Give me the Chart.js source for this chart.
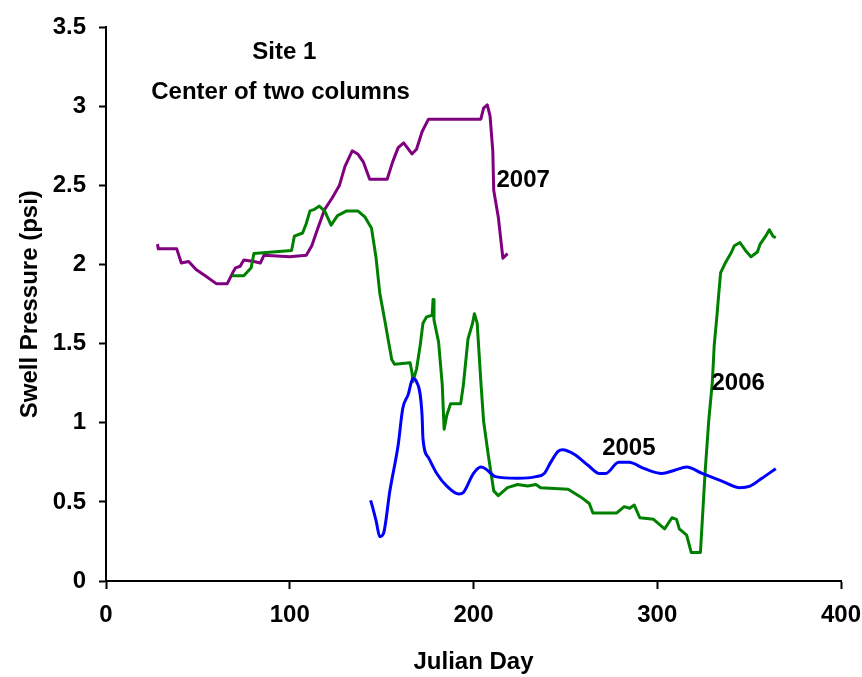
<!DOCTYPE html>
<html>
<head>
<meta charset="utf-8">
<script src="https://cdn.jsdelivr.net/npm/chart.js@4.4.1/dist/chart.umd.min.js"></script>
<style>
  html, body { margin: 0; padding: 0; background: #fff; }
  #wrap { width: 862px; height: 677px; position: relative; }
</style>
</head>
<body>
<div id="wrap"><canvas id="swellChart"></canvas></div>
<script>
// julian day / swell pressure (psi)
const days2007 = [28, 28.5, 38.5, 41, 45, 49, 54, 60, 66, 69, 70.5, 73, 75, 80.5, 84, 86, 100, 109, 112, 115, 119, 123, 127, 130, 134, 137, 140, 143.5, 153, 156, 159, 162, 166.5, 169, 172, 175.5, 204, 205.5, 207.5, 209, 210.5, 211, 213.5, 216, 218.5];
const psi2007 = [2.13, 2.10, 2.10, 2.01, 2.02, 1.97, 1.93, 1.88, 1.88, 1.95, 1.98, 1.99, 2.03, 2.02, 2.01, 2.06, 2.05, 2.06, 2.12, 2.22, 2.35, 2.42, 2.50, 2.62, 2.72, 2.70, 2.65, 2.54, 2.54, 2.65, 2.74, 2.77, 2.70, 2.73, 2.84, 2.92, 2.92, 2.99, 3.01, 2.94, 2.72, 2.47, 2.30, 2.04, 2.07];

const days2006 = [68.6, 75, 79, 80.5, 101, 102.5, 107, 109, 111, 113.5, 116, 119, 122.5, 126, 131, 137, 141, 144.5, 147, 149, 152, 153.5, 155.5, 157, 165.5, 166.5, 167, 169, 171, 172.5, 174.5, 177.5, 178, 178.5, 181, 183, 184, 185.5, 187.5, 193, 194.5, 197, 199.5, 200.5, 202, 204, 205.5, 208, 211, 213.5, 218.5, 224, 229.5, 234, 236.5, 251.5, 258.5, 263, 265, 278, 282, 285, 287.5, 290.5, 298, 304, 308, 310.5, 312, 316, 318.5, 323.5, 324.5, 326, 328, 330, 331, 332.5, 333.5, 334.5, 337, 340, 342, 345, 348, 351, 354.5, 356, 359, 361, 363, 364.5];
const psi2006 = [1.93, 1.93, 1.98, 2.07, 2.09, 2.18, 2.20, 2.26, 2.34, 2.35, 2.37, 2.34, 2.25, 2.31, 2.34, 2.34, 2.30, 2.23, 2.04, 1.82, 1.63, 1.53, 1.40, 1.37, 1.38, 1.32, 1.26, 1.34, 1.49, 1.63, 1.67, 1.68, 1.78, 1.65, 1.51, 1.24, 0.96, 1.05, 1.12, 1.12, 1.24, 1.53, 1.63, 1.69, 1.63, 1.26, 1.01, 0.80, 0.57, 0.54, 0.59, 0.61, 0.60, 0.61, 0.59, 0.58, 0.53, 0.49, 0.43, 0.43, 0.47, 0.46, 0.48, 0.40, 0.39, 0.33, 0.40, 0.39, 0.33, 0.29, 0.18, 0.18, 0.38, 0.68, 1.01, 1.26, 1.49, 1.68, 1.82, 1.95, 2.01, 2.07, 2.12, 2.14, 2.09, 2.05, 2.08, 2.13, 2.18, 2.22, 2.18, 2.17];

const days2005 = [144, 145, 147, 149, 151, 154.5, 159, 161.5, 164.5, 167, 169, 172, 172.5, 175.5, 180, 185.5, 192, 194.5, 200, 204, 206.5, 212, 224, 234, 238.5, 242, 246, 248.5, 255, 262.5, 268.5, 272, 279, 284.5, 293, 302.5, 309.5, 316, 324.5, 335.5, 345, 350.5, 357, 364.5];
const psi2005 = [0.51, 0.47, 0.38, 0.28, 0.30, 0.57, 0.86, 1.09, 1.18, 1.28, 1.26, 1.05, 0.90, 0.78, 0.68, 0.60, 0.55, 0.56, 0.68, 0.72, 0.71, 0.66, 0.65, 0.66, 0.68, 0.75, 0.82, 0.83, 0.80, 0.73, 0.68, 0.68, 0.75, 0.75, 0.71, 0.68, 0.70, 0.72, 0.68, 0.63, 0.59, 0.60, 0.65, 0.71];

const xTicks = [0, 100, 200, 300, 400];
const yTicks = [0, 0.5, 1, 1.5, 2, 2.5, 3, 3.5];

// text placed on the plot (data units)
const noteText = ['Site 1', 'Center of two columns', '2007', '2006', '2005'];
const noteDay = [97, 95, 212.5, 329.5, 270];
const notePsi = [3.34, 3.09, 2.53, 1.25, 0.84];
const noteAlign = ['center', 'center', 'left', 'left', 'left'];

const FONT = '"Liberation Sans", Arial, sans-serif';
const SIZE = 24;

function pts(xs, ys) {
  return xs.map((d, i) => ({ x: d, y: ys[i] }));
}

const notesPlugin = {
  id: 'notes',
  afterDatasetsDraw(chart) {
    const ctx = chart.ctx;
    const xs = chart.scales.x, ys = chart.scales.y;
    ctx.save();
    ctx.fillStyle = '#000';
    ctx.font = 'bold ' + SIZE + 'px ' + FONT;
    ctx.textBaseline = 'middle';
    noteText.forEach((t, i) => {
      ctx.textAlign = noteAlign[i];
      ctx.fillText(t, xs.getPixelForValue(noteDay[i]), ys.getPixelForValue(notePsi[i]));
    });
    ctx.restore();
  }
};

const lineOpts = { pointRadius: 0, borderWidth: 3, fill: false, borderJoinStyle: 'round' };
const tickFont = { family: FONT, size: SIZE, weight: 'bold' };

new Chart(document.getElementById('swellChart').getContext('2d'), {
  type: 'line',
  data: {
    datasets: [
      Object.assign({ label: '2005', data: pts(days2005, psi2005), borderColor: '#0000ff', cubicInterpolationMode: 'monotone' }, lineOpts),
      Object.assign({ label: '2006', data: pts(days2006, psi2006), borderColor: '#008000', tension: 0 }, lineOpts),
      Object.assign({ label: '2007', data: pts(days2007, psi2007), borderColor: '#800080', tension: 0 }, lineOpts)
    ]
  },
  options: {
    responsive: true,
    maintainAspectRatio: false,
    animation: false,
    layout: { padding: { left: 0, right: 0, top: 22, bottom: 0 } },
    plugins: { legend: { display: false }, tooltip: { enabled: false } },
    scales: {
      x: {
        type: 'linear',
        min: 0, max: 400,
        afterBuildTicks: s => { s.ticks = xTicks.map(v => ({ value: v })); },
        afterFit: s => { s.height = 96; s.paddingRight = 21; s.paddingLeft = 0; },
        grid: { drawOnChartArea: false, tickLength: 8, tickColor: '#000', tickWidth: 2 },
        border: { color: '#000', width: 2 },
        ticks: { color: '#000', padding: 12, maxRotation: 0, font: tickFont, callback: v => String(v) },
        title: { display: true, text: 'Julian Day', color: '#000', padding: { top: 0, bottom: 0 }, font: tickFont }
      },
      y: {
        min: 0, max: 3.5,
        afterBuildTicks: s => { s.ticks = yTicks.map(v => ({ value: v })); },
        afterFit: s => { s.width = 106; },
        grid: { drawOnChartArea: false, tickLength: 7, tickColor: '#000', tickWidth: 2 },
        border: { color: '#000', width: 2 },
        ticks: { color: '#000', padding: 13, font: tickFont, callback: v => String(v) },
        title: { display: true, text: 'Swell Pressure (psi)', color: '#000', padding: { top: 16, bottom: 0 }, font: tickFont }
      }
    }
  },
  plugins: [notesPlugin]
});
</script>
</body>
</html>
